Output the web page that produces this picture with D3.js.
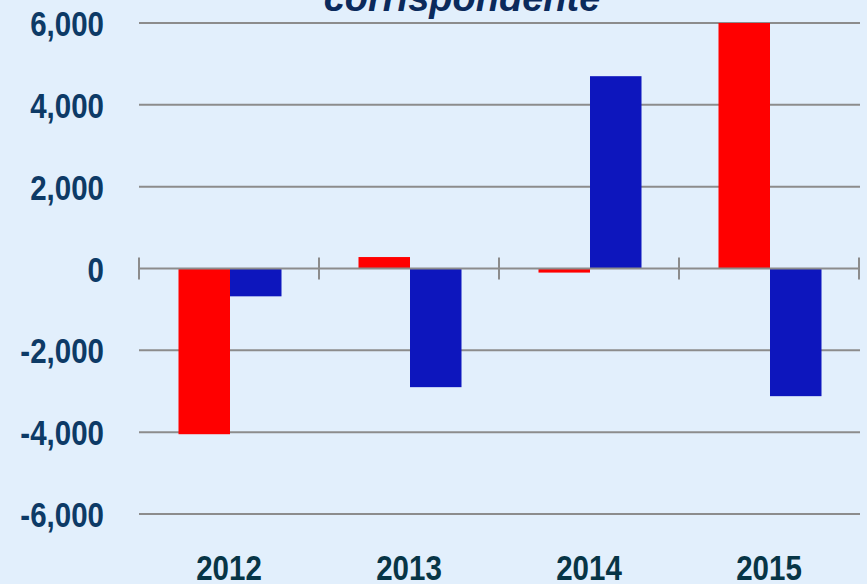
<!DOCTYPE html>
<html>
<head>
<meta charset="utf-8">
<script src="https://cdn.jsdelivr.net/npm/d3@7"></script>
<style>
  html, body { margin: 0; padding: 0; background: #e2effc; }
  svg { display: block; }
  .ylab { font-family: "Liberation Sans", Arial, sans-serif; font-weight: bold; font-size: 36px; fill: #0d3a66; }
  .xlab { font-family: "Liberation Sans", Arial, sans-serif; font-weight: bold; font-size: 36px; fill: #073546; }
  .title { font-family: "Liberation Sans", Arial, sans-serif; font-weight: bold; font-style: italic; font-size: 38px; fill: #0b2a5c; }
</style>
</head>
<body>
<svg id="chart" width="867" height="584"></svg>
<script>
// data
const years = ['2012', '2013', '2014', '2015'];
const series = ['a', 'b'];
const redValues = [-4050, 280, -100, 6000];
const blueValues = [-680, -2900, 4700, -3120];
const yTicks = [6000, 4000, 2000, 0, -2000, -4000, -6000];
const colors = { a: '#ff0000', b: '#0d16bd' };

const svg = d3.select('#chart');
const W = 867, H = 584;
const narrow = 0.82; // no narrow font installed, squeeze the labels instead

svg.append('rect').attr('width', W).attr('height', H).attr('fill', '#e2effc');

const x0 = d3.scaleBand().domain(years).range([139, 859]).padding(0);
const x1 = d3.scaleBand().domain(series).range([39.5, 142.5]).padding(0);
const y = d3.scaleLinear().domain([-6000, 6000]).range([514, 23]);

// plain hyphen for negatives, like the original
const fmt = d => (d < 0 ? '-' : '') + d3.format(',')(Math.abs(d));

// gridlines
svg.append('g').selectAll('line')
  .data(yTicks.filter(d => d !== 0))
  .join('line')
  .attr('x1', 139).attr('x2', 860)
  .attr('y1', d => y(d)).attr('y2', d => y(d))
  .attr('stroke', '#8c8c8c').attr('stroke-width', 2);

// bars
const rows = years.map((yr, i) => ({ year: yr, a: redValues[i], b: blueValues[i] }));
svg.append('g').selectAll('g')
  .data(rows)
  .join('g')
  .attr('transform', d => `translate(${x0(d.year)},0)`)
  .selectAll('rect')
  .data(d => series.map(k => ({ key: k, value: d[k] })))
  .join('rect')
  .attr('x', d => x1(d.key))
  .attr('width', x1.bandwidth())
  .attr('y', d => y(Math.max(0, d.value)))
  .attr('height', d => Math.abs(y(d.value) - y(0)))
  .attr('fill', d => colors[d.key]);

// zero axis with ticks
const axisG = svg.append('g');
axisG.append('line')
  .attr('x1', 139).attr('x2', 860)
  .attr('y1', y(0)).attr('y2', y(0))
  .attr('stroke', '#8c8c8c').attr('stroke-width', 2);
const tickXs = years.map(d => x0(d)).concat([x0(years[years.length - 1]) + x0.bandwidth()]);
axisG.selectAll('.tick')
  .data(tickXs)
  .join('line')
  .attr('class', 'tick')
  .attr('x1', d => d).attr('x2', d => d)
  .attr('y1', y(0) - 11).attr('y2', y(0) + 11)
  .attr('stroke', '#8c8c8c').attr('stroke-width', 2);

// y labels
svg.append('g').selectAll('text')
  .data(yTicks)
  .join('text')
  .attr('class', 'ylab')
  .attr('transform', d => `translate(104,${y(d) + 13}) scale(${narrow},1)`)
  .attr('text-anchor', 'end')
  .text(d => fmt(d));

// x labels
svg.append('g').selectAll('text')
  .data(years)
  .join('text')
  .attr('class', 'xlab')
  .attr('transform', d => `translate(${x0(d) + 90},580) scale(${narrow},1)`)
  .attr('text-anchor', 'middle')
  .text(d => d);

// title (cut off at the top)
svg.append('text')
  .attr('class', 'title')
  .attr('x', 462)
  .attr('y', 11)
  .attr('text-anchor', 'middle')
  .text('corrispondente');
</script>
</body>
</html>
